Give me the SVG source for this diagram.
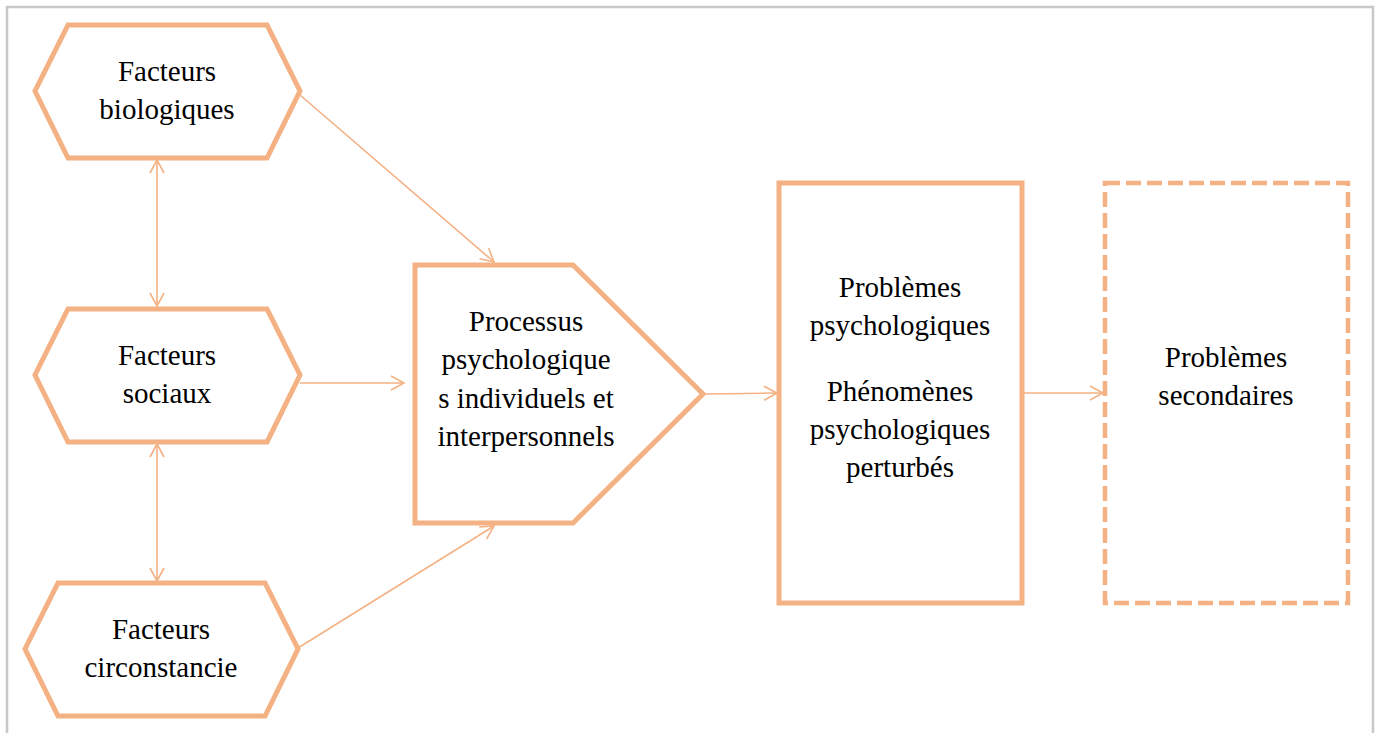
<svg xmlns="http://www.w3.org/2000/svg" width="1378" height="733" viewBox="0 0 1378 733">
<style>
.shape{fill:#ffffff;stroke:#F4B183;stroke-width:5;stroke-linejoin:miter}
.dash{fill:#ffffff;stroke:#F4B183;stroke-width:4.5;stroke-dasharray:15 6}
.conn{fill:none;stroke:#F4B183;stroke-width:1.6}
.t{font-family:'Liberation Serif','Times New Roman',Times,'DejaVu Serif',serif;font-size:29px;fill:#000;text-anchor:middle}
</style>
<defs>
<marker id="ah" viewBox="-14 -8 16 16" refX="0" refY="0" markerWidth="16" markerHeight="16" markerUnits="userSpaceOnUse" orient="auto-start-reverse">
<path d="M-13,-7 L0,0 L-13,7" fill="none" stroke="#F4B183" stroke-width="1.6"/>
</marker>
</defs>
<rect width="1378" height="733" fill="#ffffff"/>
<path d="M7,733 V7 H1373 V733" fill="none" stroke="#c8c8c8" stroke-width="2.5"/>
<g id="connectors">
<line class="conn" x1="300" y1="95" x2="494" y2="262" marker-end="url(#ah)"/>
<line class="conn" x1="300" y1="383" x2="404" y2="383" marker-end="url(#ah)"/>
<line class="conn" x1="298" y1="648" x2="494" y2="526" marker-end="url(#ah)"/>
<line class="conn" x1="157" y1="160" x2="157" y2="306" marker-start="url(#ah)" marker-end="url(#ah)"/>
<line class="conn" x1="157" y1="444" x2="157" y2="581" marker-start="url(#ah)" marker-end="url(#ah)"/>
<line class="conn" x1="705" y1="394" x2="777" y2="393" marker-end="url(#ah)"/>
<line class="conn" x1="1024" y1="393" x2="1103" y2="393" marker-end="url(#ah)"/>
</g>
<g id="bio">
<polygon class="shape" points="68,25 267,25 300,91 267,158 68,158 35,91"/>
<text class="t" x="167" y="81">Facteurs</text>
<text class="t" x="167" y="119">biologiques</text>
</g>
<g id="sociaux">
<polygon class="shape" points="68,309 267,309 300,375 267,442 68,442 35,375"/>
<text class="t" x="167" y="365">Facteurs</text>
<text class="t" x="167" y="403">sociaux</text>
</g>
<g id="circ">
<polygon class="shape" points="58,583 265,583 298,649 265,716 58,716 25,649"/>
<text class="t" x="161" y="639">Facteurs</text>
<text class="t" x="161" y="677">circonstancie</text>
</g>
<g id="processus">
<polygon class="shape" points="415,265 573,265 703,394 573,523 415,523"/>
<text class="t" x="526" y="331">Processus</text>
<text class="t" x="526" y="369">psychologique</text>
<text class="t" x="526" y="408">s individuels et</text>
<text class="t" x="526" y="446">interpersonnels</text>
</g>
<g id="problemes">
<rect class="shape" x="779" y="183" width="243" height="420"/>
<text class="t" x="900" y="297">Problèmes</text>
<text class="t" x="900" y="335">psychologiques</text>
<text class="t" x="900" y="401">Phénomènes</text>
<text class="t" x="900" y="439">psychologiques</text>
<text class="t" x="900" y="477">perturbés</text>
</g>
<g id="secondaires">
<rect class="dash" x="1105" y="183" width="243" height="420"/>
<text class="t" x="1226" y="367">Problèmes</text>
<text class="t" x="1226" y="405">secondaires</text>
</g>
</svg>
